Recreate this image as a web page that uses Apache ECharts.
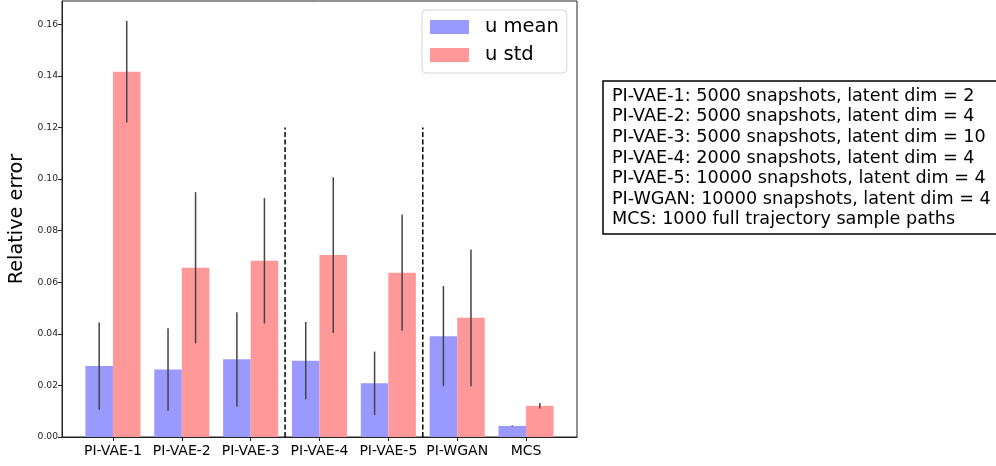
<!DOCTYPE html>
<html>
<head>
<meta charset="utf-8">
<script src="https://cdn.jsdelivr.net/npm/echarts@6/dist/echarts.min.js"></script>
<style>
html,body{margin:0;padding:0;background:#fff;}
#chart{width:996px;height:466px;}
</style>
</head>
<body>
<div id="chart"></div>
<script>
// ---- data ----
const categories = ['PI-VAE-1', 'PI-VAE-2', 'PI-VAE-3', 'PI-VAE-4', 'PI-VAE-5', 'PI-WGAN', 'MCS'];
const meanVals = [0.0275, 0.0262, 0.0301, 0.0296, 0.0208, 0.0391, 0.0043];
const meanErr  = [0.0169, 0.0160, 0.0183, 0.0150, 0.0123, 0.0194, 0.0002];
const stdVals  = [0.1416, 0.0656, 0.0683, 0.0705, 0.0637, 0.0462, 0.0121];
const stdErr   = [0.0197, 0.0293, 0.0243, 0.0302, 0.0225, 0.0265, 0.0011];
const yTicks = [0, 0.02, 0.04, 0.06, 0.08, 0.10, 0.12, 0.14, 0.16];
const separatorsX = [2.5, 4.5];
const separatorTop = 0.12;
const legendNames = ['u mean', 'u std'];
const noteLines = [
  'PI-VAE-1: 5000 snapshots, latent dim = 2',
  'PI-VAE-2: 5000 snapshots, latent dim = 4',
  'PI-VAE-3: 5000 snapshots, latent dim = 10',
  'PI-VAE-4: 2000 snapshots, latent dim = 4',
  'PI-VAE-5: 10000 snapshots, latent dim = 4',
  'PI-WGAN: 10000 snapshots, latent dim = 4',
  'MCS: 1000 full trajectory sample paths'
];

// ---- chart ----
const FONT = 'DejaVu Sans';
const xIdx = categories.map((c, i) => i);
const BAR_W = 0.4; // bar width in category units

// side: -1 = bar left of category center, +1 = right of it
function makeBarRender(side) {
  return function (params, api) {
    const x = api.value(0), v = api.value(1), e = api.value(2);
    const x0 = side < 0 ? x - BAR_W : x;
    const x1 = side < 0 ? x : x + BAR_W;
    const pTop = api.coord([x0, v]);
    const pBot = api.coord([x1, 0]);
    const xc = (x0 + x1) / 2;
    const eLo = api.coord([xc, v - e]);
    const eHi = api.coord([xc, v + e]);
    return {
      type: 'group',
      children: [
        {
          type: 'rect',
          shape: { x: pTop[0], y: pTop[1], width: pBot[0] - pTop[0], height: pBot[1] - pTop[1] },
          style: { fill: api.visual('color') }
        },
        {
          type: 'line',
          z2: 10,
          shape: { x1: eLo[0], y1: eLo[1], x2: eHi[0], y2: eHi[1] },
          style: { stroke: '#444', lineWidth: 1.5 }
        }
      ]
    };
  };
}

const chart = echarts.init(document.getElementById('chart'), null, { renderer: 'canvas' });
const option = {
  animation: false,
  backgroundColor: '#fff',
  textStyle: { fontFamily: FONT },
  title: {
    text: noteLines.join('\n'),
    left: 603,
    top: 81,
    borderColor: '#000',
    borderWidth: 1.5,
    padding: [5, 9, 4, 9],
    textStyle: { fontFamily: FONT, fontSize: 17.6, fontWeight: 'normal', color: '#000', lineHeight: 20.6 }
  },
  legend: {
    data: legendNames,
    orient: 'vertical',
    left: 422,
    top: 10,
    itemWidth: 39,
    itemHeight: 14,
    itemGap: 8,
    icon: 'rect',
    padding: [7, 8, 8, 8],
    borderColor: '#d6d6d6',
    borderWidth: 1,
    borderRadius: 4,
    textStyle: { fontFamily: FONT, fontSize: 19.5, color: '#000', padding: [0, 0, 0, 11] }
  },
  grid: {
    left: 62, right: 419, top: 1, bottom: 29,
    containLabel: false,
    outerBoundsMode: 'none',
    show: true, borderColor: '#222', borderWidth: 1, backgroundColor: 'transparent'
  },
  xAxis: {
    type: 'value',
    min: -0.74,
    max: 6.74,
    splitLine: { show: false },
    axisLine: { show: true, onZero: false, lineStyle: { color: '#222', width: 1 } },
    axisTick: { show: true, customValues: xIdx, length: 4, lineStyle: { color: '#222' } },
    axisLabel: {
      customValues: xIdx,
      formatter: v => categories[Math.round(v)],
      fontFamily: FONT, fontSize: 14, color: '#000', margin: 7
    }
  },
  yAxis: {
    type: 'value',
    min: 0,
    max: 0.169,
    name: 'Relative error',
    nameLocation: 'middle',
    nameRotate: 90,
    nameGap: 35,
    nameTextStyle: { fontFamily: FONT, fontSize: 19.3, color: '#000' },
    splitLine: { show: false },
    axisLine: { show: true, onZero: false, lineStyle: { color: '#222', width: 1 } },
    axisTick: { show: true, customValues: yTicks, length: 4, lineStyle: { color: '#222' } },
    axisLabel: {
      customValues: yTicks,
      formatter: v => v.toFixed(2),
      fontFamily: FONT, fontSize: 9.2, color: '#222', margin: 4
    }
  },
  series: [
    {
      name: 'u mean', type: 'custom', renderItem: makeBarRender(-1),
      itemStyle: { color: '#9999ff' },
      encode: { x: 0, y: 1 },
      data: meanVals.map((v, i) => [i, v, meanErr[i]])
    },
    {
      name: 'u std', type: 'custom', renderItem: makeBarRender(1),
      itemStyle: { color: '#ff9999' },
      encode: { x: 0, y: 1 },
      data: stdVals.map((v, i) => [i, v, stdErr[i]])
    },
    ...separatorsX.map((sx, k) => ({
      name: 'sep' + k, type: 'line', symbol: 'none', z: 6,
      lineStyle: { color: '#000', width: 1.5, type: [5, 2.5] },
      data: [[sx, 0], [sx, separatorTop]]
    }))
  ]
};
chart.setOption(option);
</script>
</body>
</html>
